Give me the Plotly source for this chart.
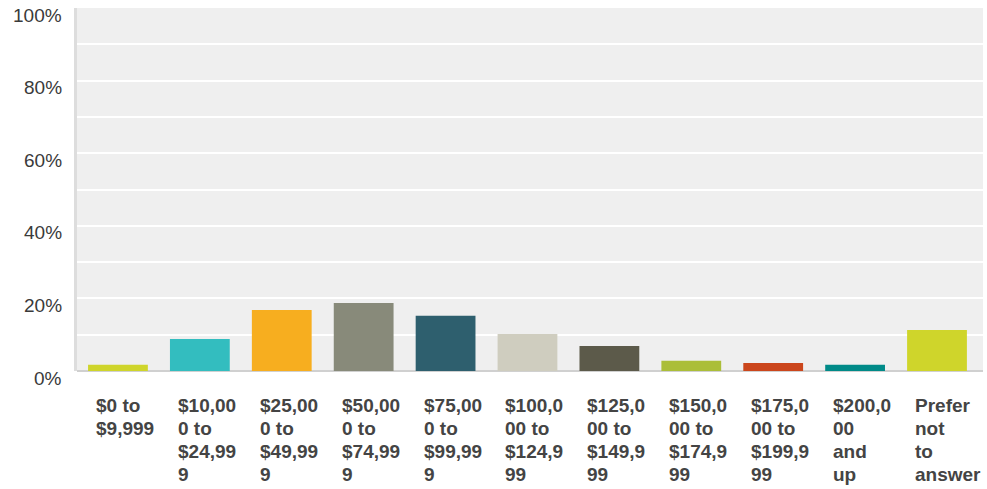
import plotly.graph_objects as go

# Household income brackets and share of respondents (%)
categories = [
    "$0 to $9,999", "$10,000 to $24,999", "$25,000 to $49,999",
    "$50,000 to $74,999", "$75,000 to $99,999", "$100,000 to $124,999",
    "$125,000 to $149,999", "$150,000 to $174,999", "$175,000 to $199,999",
    "$200,000 and up", "Prefer not to answer",
]
values = [1.7, 8.8, 16.8, 18.7, 15.2, 10.2, 6.9, 2.8, 2.2, 1.7, 11.3]
# Wrapped axis labels, broken the way a narrow column wraps them
wrapped_labels = [
    ["$0 to", "$9,999"],
    ["$10,00", "0 to", "$24,99", "9"],
    ["$25,00", "0 to", "$49,99", "9"],
    ["$50,00", "0 to", "$74,99", "9"],
    ["$75,00", "0 to", "$99,99", "9"],
    ["$100,0", "00 to", "$124,9", "99"],
    ["$125,0", "00 to", "$149,9", "99"],
    ["$150,0", "00 to", "$174,9", "99"],
    ["$175,0", "00 to", "$199,9", "99"],
    ["$200,0", "00", "and", "up"],
    ["Prefer", "not", "to", "answer"],
]
colors = [
    "#cfd52b", "#33bdbf", "#f7ae1f", "#888a7a", "#2e5f6e", "#cfcdbf",
    "#5c5a4a", "#abbe38", "#cb461c", "#008a88", "#cfd52b",
]
y_ticks = [0, 20, 40, 60, 80, 100]
y_tick_text = ["0%", "20%", "40%", "60%", "80%", "100%"]

FONT = "Arial, 'Liberation Sans', sans-serif"
LINE_STEP = 23.3  # px between wrapped label lines

fig = go.Figure(
    go.Bar(
        x=categories,
        y=values,
        marker=dict(color=colors, line=dict(width=0)),
        hoverinfo="skip",
    )
)

# Category labels: left-aligned, wrapped columns under each bar
for cat, lines in zip(categories, wrapped_labels):
    for k, line in enumerate(lines):
        fig.add_annotation(
            x=cat, xref="x", y=0, yref="paper",
            text=line, showarrow=False,
            xanchor="left", yanchor="middle", align="left",
            xshift=-24, yshift=-34 - LINE_STEP * k,
            font=dict(family=FONT, size=19, color="#444444", weight="bold"),
        )

# Percentage labels sit just below their gridline
for v, t in zip(y_ticks, y_tick_text):
    fig.add_annotation(
        x=0, xref="paper", y=v, yref="y",
        text=t, showarrow=False,
        xanchor="right", yanchor="middle",
        xshift=-13, yshift=-7,
        font=dict(family=FONT, size=19, color="#3a3a3a"),
    )

fig.update_layout(
    width=987, height=489,
    margin=dict(l=77, r=4, t=8, b=118),
    paper_bgcolor="white",
    plot_bgcolor="#efefef",
    bargap=0.27,
    showlegend=False,
    font=dict(family=FONT, color="#444444"),
)
fig.update_xaxes(
    showticklabels=False, ticks="", showgrid=False,
    showline=False, zeroline=False,
)
fig.update_yaxes(
    range=[0, 100], dtick=10, showticklabels=False, ticks="",
    showgrid=True, gridcolor="white", gridwidth=2,
    showline=True, linecolor="#dddddd", linewidth=3,
    zeroline=True, zerolinecolor="#d0d0d0", zerolinewidth=2,
    fixedrange=True,
)

fig.write_html("out.html")
